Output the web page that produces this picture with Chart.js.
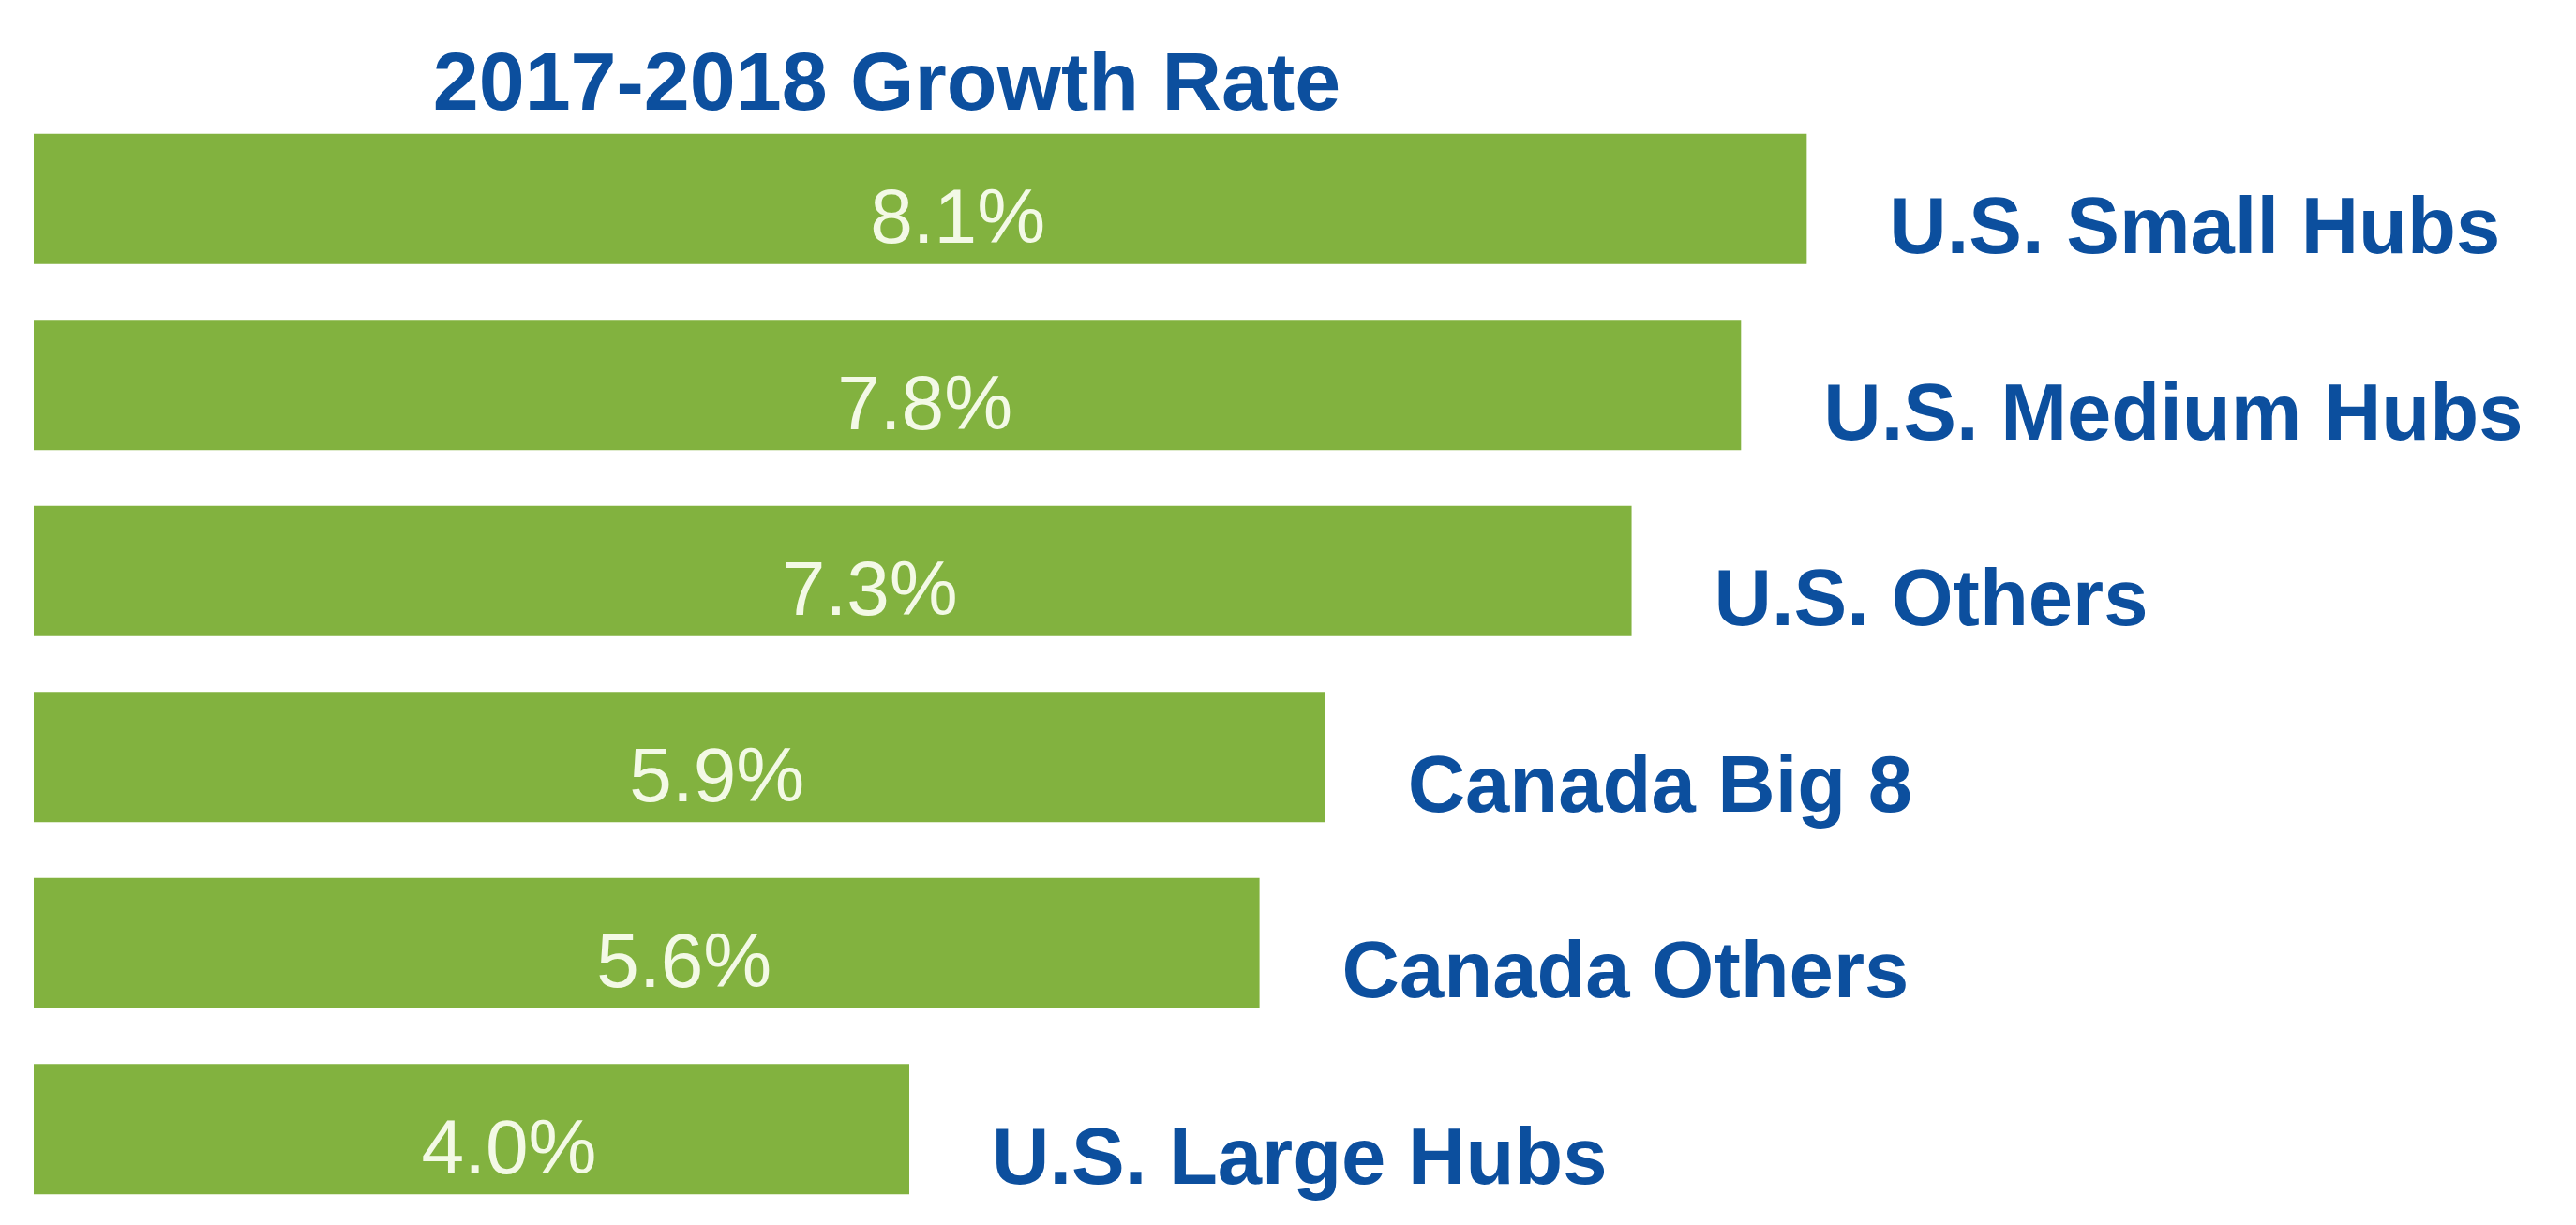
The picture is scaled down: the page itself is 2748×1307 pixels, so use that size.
<!DOCTYPE html>
<html>
<head>
<meta charset="utf-8">
<style>
  html, body { margin: 0; padding: 0; background: #ffffff; }
  canvas { display: block; }
</style>
<script src="https://cdn.jsdelivr.net/npm/chart.js@4/dist/chart.umd.min.js"></script>
</head>
<body>
<canvas id="growthChart" width="2748" height="1307"></canvas>
<script>
  // data
  const regions = ['U.S. Small Hubs', 'U.S. Medium Hubs', 'U.S. Others', 'Canada Big 8', 'Canada Others', 'U.S. Large Hubs'];
  const growthRate = [8.1, 7.8, 7.3, 5.9, 5.6, 4.0];
  const chartTitle = '2017-2018 Growth Rate';

  const green = '#82b23f';
  const blue  = '#0c4f9e';
  const font  = "'Liberation Sans', Arial, sans-serif";

  // draws the title, the % inside the bars and the region names after them
  const labelPlugin = {
    id: 'barLabels',
    afterDatasetsDraw(chart) {
      const c = chart.ctx;
      const bars = chart.getDatasetMeta(0).data;
      c.save();

      c.fillStyle = blue;
      c.font = 'bold 88px ' + font;
      c.textAlign = 'center';
      c.textBaseline = 'alphabetic';
      c.fillText(chartTitle, 946, 117);

      bars.forEach((bar, i) => {
        c.fillStyle = '#f3f9e6';
        c.font = '82px ' + font;
        c.textAlign = 'center';
        c.fillText(growthRate[i].toFixed(1) + '%', (bar.base + bar.x) / 2 + 40, bar.y + 47);

        c.fillStyle = blue;
        c.font = 'bold 85px ' + font;
        c.textAlign = 'left';
        c.fillText(regions[i], bar.x + 88, bar.y + 58);
      });
      c.restore();
    }
  };

  new Chart(document.getElementById('growthChart'), {
    type: 'bar',
    data: {
      labels: regions,
      datasets: [{
        data: growthRate,
        backgroundColor: green,
        borderWidth: 0,
        barPercentage: 0.70,
        categoryPercentage: 1.0
      }]
    },
    options: {
      indexAxis: 'y',
      responsive: false,
      animation: false,
      layout: { padding: { left: 36, right: 143.5, top: 113, bottom: 3 } },
      scales: {
        x: { display: false, min: 0, max: 11 },
        y: { display: false }
      },
      plugins: {
        legend: { display: false },
        tooltip: { enabled: false }
      }
    },
    plugins: [labelPlugin]
  });
</script>
</body>
</html>
